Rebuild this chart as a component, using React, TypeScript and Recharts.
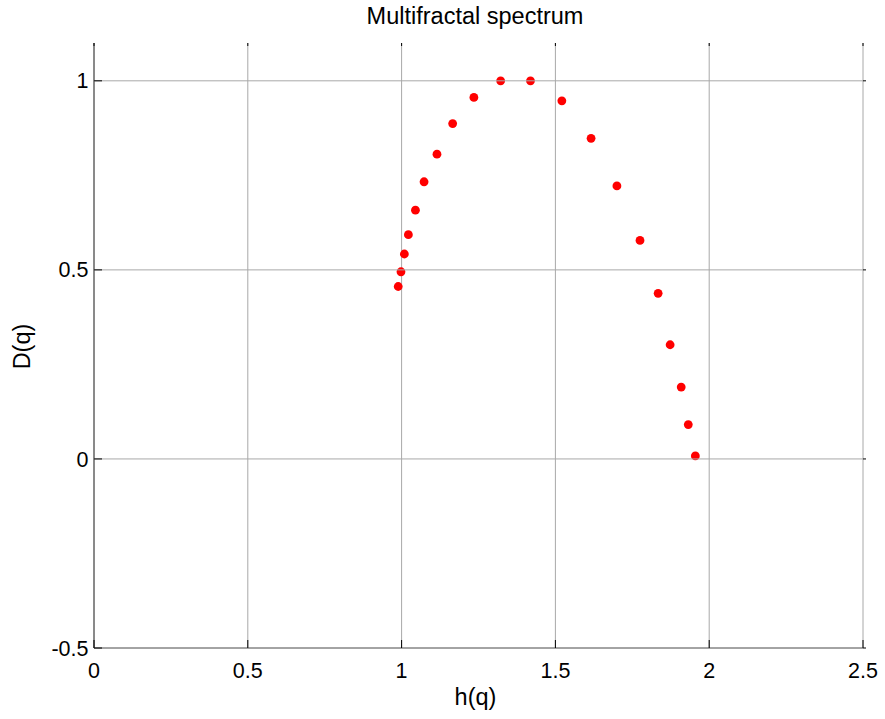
import React from "react"
import { ScatterChart, Scatter, XAxis, YAxis, CartesianGrid, Label } from "recharts"

// h(q) and D(q)
const hq = [0.989, 0.998, 1.009, 1.022, 1.045, 1.073, 1.115, 1.166, 1.235, 1.322, 1.419, 1.521, 1.616, 1.7, 1.775, 1.834, 1.873, 1.909, 1.932, 1.955]
const dq = [0.456, 0.495, 0.542, 0.593, 0.658, 0.733, 0.806, 0.887, 0.956, 1.0, 1.0, 0.947, 0.848, 0.722, 0.578, 0.438, 0.302, 0.19, 0.091, 0.008]
const xTicks = [0, 0.5, 1, 1.5, 2, 2.5]
const yTicks = [-0.5, 0, 0.5, 1]

const data = hq.map((h, i) => ({ h, d: dq[i] }))

const font = "'Liberation Sans', Arial, sans-serif"
const PLOT_TOP = 43
const PLOT_RIGHT = 863
const GRID = "#a8a8a8"

const Dot = (p: any) => <circle cx={p.cx} cy={p.cy} r={4.4} fill="#ff0000" />

// matlab-ish inward ticks, drawn with the label
const XTick = (p: any) => (
  <g>
    <line x1={p.x} y1={p.y} x2={p.x} y2={p.y - 8} stroke="#000" />
    <line x1={p.x} y1={PLOT_TOP} x2={p.x} y2={PLOT_TOP + 3} stroke="#000" />
    <text x={p.x} y={p.y + 29.5} textAnchor="middle" fontSize={21.5} fontFamily={font} fill="#000">
      {p.payload.value}
    </text>
  </g>
)

// horizontal grid line lives here too, so there is no line along the top edge
const YTick = (p: any) => (
  <g>
    <line x1={p.x} y1={p.y} x2={PLOT_RIGHT} y2={p.y} stroke={GRID} />
    <line x1={p.x} y1={p.y} x2={p.x + 8} y2={p.y} stroke="#000" />
    <line x1={PLOT_RIGHT} y1={p.y} x2={PLOT_RIGHT + 3} y2={p.y} stroke="#000" />
    <text x={p.x - 5.5} y={p.y + 7.6} textAnchor="end" fontSize={21.5} fontFamily={font} fill="#000">
      {p.payload.value}
    </text>
  </g>
)

export default function App() {
  return (
    <div style={{ position: "absolute", left: 0, top: 0, width: 885, height: 719, background: "#fff" }}>
      <div
        style={{
          position: "absolute",
          left: 0,
          width: 950,
          top: 3,
          textAlign: "center",
          fontFamily: font,
          fontSize: 23.5,
          lineHeight: "27px",
          color: "#000",
        }}
      >
        Multifractal spectrum
      </div>
      <ScatterChart width={885} height={719} margin={{ top: PLOT_TOP, right: 885 - PLOT_RIGHT, bottom: 0, left: 0 }}>
        <CartesianGrid stroke={GRID} horizontal={false} />
        <YAxis
          type="number"
          dataKey="d"
          domain={[-0.5, 1.1]}
          ticks={yTicks}
          width={94}
          stroke="#404040"
          tickLine={false}
          tickSize={0}
          tickMargin={0}
          tick={YTick}
        >
          <Label
            content={(props: any) => {
              const vb = props.viewBox
              const cy = vb.y + vb.height / 2 + 1
              return (
                <text x={29.5} y={cy} transform={`rotate(-90, 29.5, ${cy})`} textAnchor="middle" fontSize={23.5} fontFamily={font} fill="#000">
                  D(q)
                </text>
              )
            }}
          />
        </YAxis>
        <XAxis
          type="number"
          dataKey="h"
          domain={[0, 2.5]}
          ticks={xTicks}
          height={71}
          stroke="#404040"
          tickLine={false}
          tickSize={0}
          tickMargin={0}
          tick={XTick}
        >
          <Label
            content={(props: any) => {
              const vb = props.viewBox
              return (
                <text x={vb.x + vb.width / 2 - 3} y={vb.y + 57} textAnchor="middle" fontSize={23.5} fontFamily={font} fill="#000">
                  h(q)
                </text>
              )
            }}
          />
        </XAxis>
        <Scatter data={data} shape={Dot} isAnimationActive={false} />
      </ScatterChart>
    </div>
  )
}
